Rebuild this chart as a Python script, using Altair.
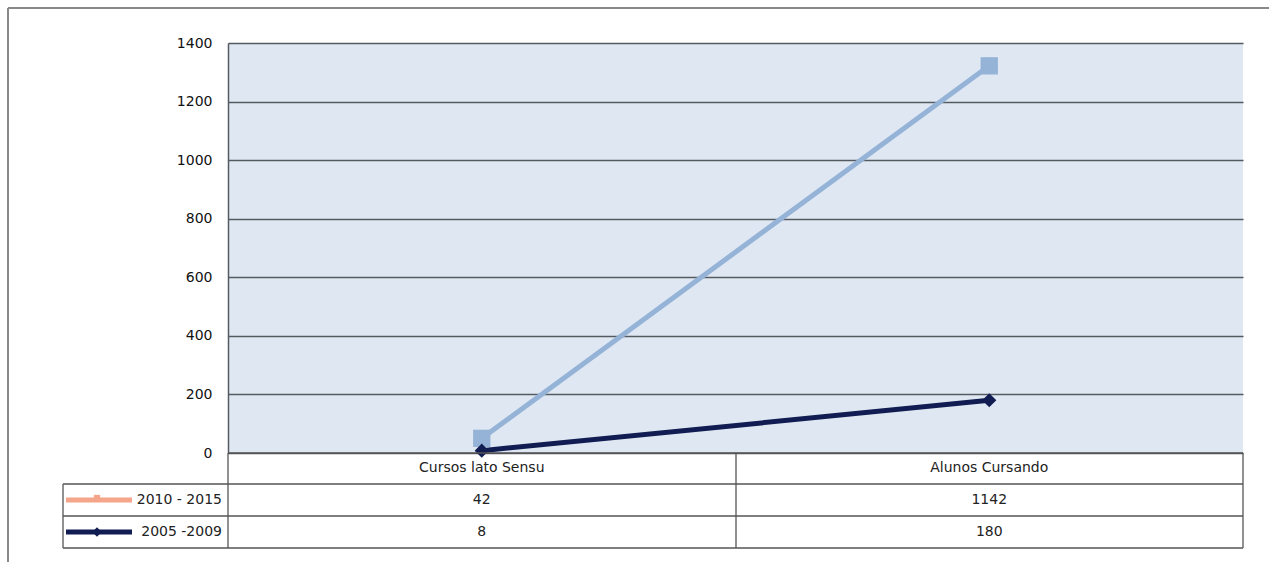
import altair as alt
import pandas as pd

categories = ["Cursos lato Sensu", "Alunos Cursando"]
series_names = ["2010 - 2015", "2005 -2009"]
vals_2010_2015 = [42, 1142]
vals_2005_2009 = [8, 180]
y_ticks = [0, 200, 400, 600, 800, 1000, 1200, 1400]

FONT = "DejaVu Sans"
FS = 14
GRID = "#555a60"

# stacked line values (Excel stacked line chart)
stacked_top = [a + b for a, b in zip(vals_2010_2015, vals_2005_2009)]

top_df = pd.DataFrame({"cat": categories, "v": stacked_top})
bot_df = pd.DataFrame({"cat": categories, "v": vals_2005_2009})

xscale = alt.Scale(domain=categories, type="point", padding=0.5)
yscale = alt.Scale(domain=[0, 1400], nice=False)

X = alt.X("cat:N", scale=xscale, axis=None, sort=categories)
Y = alt.Y("v:Q", scale=yscale,
          axis=alt.Axis(values=y_ticks, format="d",
                        grid=True, gridColor=GRID, gridWidth=1.5, gridOpacity=1,
                        ticks=False, domain=True, domainColor=GRID, domainWidth=1.5,
                        labelPadding=16, labelFont=FONT, labelFontSize=FS,
                        labelColor="#111", title=None))

LIGHT = "#95b3d7"
NAVY = "#111d52"

line_top = alt.Chart(top_df).mark_line(color=LIGHT, strokeWidth=5).encode(x=X, y=Y)
pts_top = alt.Chart(top_df).mark_square(color=LIGHT, size=300, opacity=1).encode(x=X, y=alt.Y("v:Q", scale=yscale))
line_bot = alt.Chart(bot_df).mark_line(color=NAVY, strokeWidth=5).encode(x=X, y=alt.Y("v:Q", scale=yscale))
pts_bot = alt.Chart(bot_df).mark_point(shape="diamond", filled=True, color=NAVY, size=200, opacity=1).encode(
    x=X, y=alt.Y("v:Q", scale=yscale))

dummy = pd.DataFrame({"d": [0]})

def hrule(x1, x2, y, color="#555", w=1.3):
    return alt.Chart(dummy).mark_rule(color=color, strokeWidth=w).encode(
        x=alt.value(x1), x2=alt.value(x2), y=alt.value(y))

def vrule(x, y1, y2, color="#555", w=1.3):
    return alt.Chart(dummy).mark_rule(color=color, strokeWidth=w).encode(
        x=alt.value(x), y=alt.value(y1), y2=alt.value(y2))

W, H = 1015, 410
table_lines = [
    hrule(0, W, 410),
    hrule(-165, W, 441),
    hrule(-165, W, 473),
    hrule(-165, W, 505),
    vrule(-165, 441, 505),
    vrule(0, 410, 505),
    vrule(508, 410, 505),
    vrule(W, 410, 505),
    # outer frame
    hrule(-220, 1041, -35, color="#888", w=2),
    vrule(-220, -35, 519, color="#888", w=2),
]

cat_df = pd.DataFrame({"cat": categories})
cat_text = alt.Chart(cat_df).mark_text(font=FONT, fontSize=FS, color="#222", baseline="middle").encode(
    x=X, y=alt.value(425), text="cat:N")

r1 = pd.DataFrame({"cat": categories, "val": vals_2010_2015})
r2 = pd.DataFrame({"cat": categories, "val": vals_2005_2009})
row1 = alt.Chart(r1).mark_text(font=FONT, fontSize=FS, color="#222", baseline="middle").encode(
    x=X, y=alt.value(457), text="val:Q")
row2 = alt.Chart(r2).mark_text(font=FONT, fontSize=FS, color="#222", baseline="middle").encode(
    x=X, y=alt.value(489), text="val:Q")

leg_df1 = pd.DataFrame({"name": [series_names[0]]})
leg_df2 = pd.DataFrame({"name": [series_names[1]]})
leg_t1 = alt.Chart(leg_df1).mark_text(font=FONT, fontSize=FS, color="#222", align="right", baseline="middle").encode(
    x=alt.value(-6), y=alt.value(457), text="name:N")
leg_t2 = alt.Chart(leg_df2).mark_text(font=FONT, fontSize=FS, color="#222", align="right", baseline="middle").encode(
    x=alt.value(-6), y=alt.value(489), text="name:N")

SALMON = "#f4a58a"
sw1 = alt.Chart(dummy).mark_rule(color=SALMON, strokeWidth=5).encode(
    x=alt.value(-162), x2=alt.value(-96), y=alt.value(457))
sw1m = alt.Chart(dummy).mark_square(color=SALMON, size=40, opacity=1).encode(
    x=alt.value(-131), y=alt.value(455))
sw2 = alt.Chart(dummy).mark_rule(color=NAVY, strokeWidth=5).encode(
    x=alt.value(-162), x2=alt.value(-96), y=alt.value(489))
sw2m = alt.Chart(dummy).mark_point(shape="diamond", filled=True, color=NAVY, size=90, opacity=1).encode(
    x=alt.value(-131), y=alt.value(489))

chart = alt.layer(
    line_top, pts_top, line_bot, pts_bot,
    *table_lines, cat_text, row1, row2, leg_t1, leg_t2, sw1, sw1m, sw2, sw2m
).properties(
    width=W, height=H,
    autosize=alt.AutoSizeParams(type="none"),
    padding={"left": 228, "top": 43, "right": 26, "bottom": 109},
    background="white",
).configure_view(fill="#dfe8f2", stroke=None)

chart.save("out.html", embed_options={"renderer": "svg", "actions": False})
